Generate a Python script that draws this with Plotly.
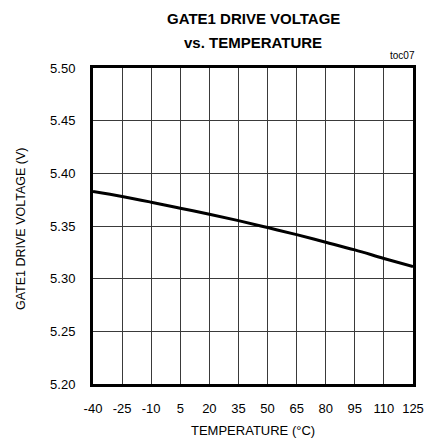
import plotly.graph_objects as go

temperature = [-40, -25, -10, 5, 20, 35, 50, 65, 80, 95, 110, 125]
voltage = [5.3827, 5.378, 5.3726, 5.3669, 5.3612, 5.3551, 5.3485, 5.3418, 5.3346, 5.3273, 5.3192, 5.3114]
x_ticks = [-40, -25, -10, 5, 20, 35, 50, 65, 80, 95, 110, 125]
y_ticks = [5.20, 5.25, 5.30, 5.35, 5.40, 5.45, 5.50]

FONT = "Liberation Sans, Arial, sans-serif"
W, H = 436, 444
L, R, T, B = 93, 14, 68, 60

fig = go.Figure()
fig.add_trace(go.Scatter(x=temperature, y=voltage, mode="lines",
                         line=dict(color="black", width=3, shape="spline"),
                         showlegend=False, hoverinfo="skip"))


def px_x(x):
    return (x - L) / (W - L - R)


def px_y(y):
    return (H - B - y) / (H - T - B)


annotations = [
    dict(text="<b>GATE1 DRIVE VOLTAGE</b>", x=px_x(258), y=px_y(18), size=15),
    dict(text="<b>vs. TEMPERATURE</b>", x=px_x(258), y=px_y(42), size=15),
    dict(text="TEMPERATURE (°C)", x=px_x(257), y=px_y(431), size=13),
]
ann = []
for a in annotations:
    ann.append(dict(text=a["text"], xref="paper", yref="paper", x=a["x"], y=a["y"],
                    xanchor="center", yanchor="middle", showarrow=False,
                    font=dict(family=FONT, size=a["size"], color="black")))
ann.append(dict(text="GATE1 DRIVE VOLTAGE (V)", xref="paper", yref="paper",
                x=px_x(19), y=px_y(229), xanchor="center", yanchor="middle",
                textangle=-90, showarrow=False,
                font=dict(family=FONT, size=12.5, color="black")))
ann.append(dict(text="toc07", xref="paper", yref="paper", x=px_x(426), y=px_y(55),
                xanchor="right", yanchor="middle", showarrow=False,
                font=dict(family=FONT, size=10, color="black")))

fig.update_layout(
    width=W, height=H, autosize=False,
    margin=dict(l=L, r=R, t=T, b=B, pad=0),
    paper_bgcolor="white", plot_bgcolor="white",
    font=dict(family=FONT, size=13, color="black"),
    annotations=ann,
)

fig.update_xaxes(range=[-40, 125], tickvals=x_ticks, ticktext=[str(v) for v in x_ticks],
                 showgrid=True, gridcolor="#3a3a3a", gridwidth=1,
                 showline=True, linecolor="black", linewidth=3, mirror=True,
                 ticks="", zeroline=False, ticklabelstandoff=10,
                 tickfont=dict(family=FONT, size=13))
fig.update_yaxes(range=[5.20, 5.50], tickvals=y_ticks, tickformat=".2f",
                 showgrid=True, gridcolor="#3a3a3a", gridwidth=1,
                 showline=True, linecolor="black", linewidth=3, mirror=True,
                 ticks="", zeroline=False, ticklabelstandoff=12,
                 tickfont=dict(family=FONT, size=13))

fig.write_html("out.html", config={"displayModeBar": False},
               post_script="document.body.style.margin='0';document.body.style.padding='0';")
